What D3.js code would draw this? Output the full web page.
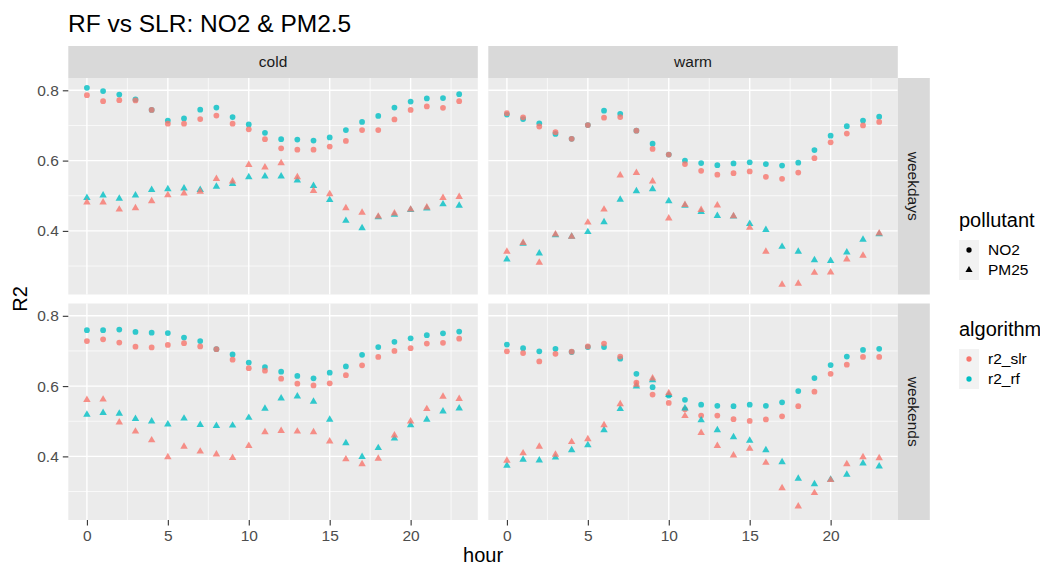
<!DOCTYPE html>
<html>
<head>
<meta charset="utf-8">
<script src="https://cdn.jsdelivr.net/npm/d3@7"></script>
<style>
  body { margin: 0; background: #fff; }
  svg { display: block; font-family: "Liberation Sans", Arial, sans-serif; }
</style>
</head>
<body>
<div id="container"></div>
<script>
// facets and legend categories
const seasons = ["cold", "warm"];
const dayTypes = ["weekdays", "weekends"];
const pollutants = ["NO2", "PM25"];
const algorithms = ["r2_slr", "r2_rf"];
const hours = [0, 1, 2, 3, 4, 5, 6, 7, 8, 9, 10, 11, 12, 13, 14, 15, 16, 17, 18, 19, 20, 21, 22, 23];
const xTicks = [0, 5, 10, 15, 20];
const yTicks = [0.4, 0.6, 0.8];

// R2 by hour
const coldWeekdaysNO2Slr = [0.786, 0.769, 0.772, 0.771, 0.744, 0.705, 0.705, 0.718, 0.728, 0.705, 0.689, 0.661, 0.635, 0.631, 0.631, 0.640, 0.656, 0.687, 0.687, 0.717, 0.744, 0.754, 0.750, 0.769];
const coldWeekdaysNO2Rf = [0.807, 0.798, 0.788, 0.774, 0.744, 0.714, 0.720, 0.745, 0.751, 0.724, 0.703, 0.679, 0.661, 0.660, 0.657, 0.666, 0.687, 0.710, 0.727, 0.751, 0.768, 0.777, 0.778, 0.789];
const coldWeekdaysPM25Slr = [0.481, 0.481, 0.461, 0.465, 0.485, 0.502, 0.507, 0.512, 0.548, 0.541, 0.588, 0.581, 0.593, 0.553, 0.514, 0.505, 0.465, 0.452, 0.441, 0.450, 0.461, 0.467, 0.494, 0.497];
const coldWeekdaysPM25Rf = [0.494, 0.501, 0.492, 0.501, 0.517, 0.519, 0.521, 0.517, 0.526, 0.534, 0.553, 0.555, 0.555, 0.544, 0.528, 0.488, 0.429, 0.408, 0.439, 0.446, 0.460, 0.464, 0.476, 0.472];

const warmWeekdaysNO2Slr = [0.735, 0.723, 0.697, 0.681, 0.662, 0.701, 0.722, 0.724, 0.685, 0.633, 0.617, 0.590, 0.571, 0.560, 0.564, 0.569, 0.554, 0.548, 0.566, 0.607, 0.652, 0.677, 0.700, 0.710];
const warmWeekdaysNO2Rf = [0.731, 0.718, 0.706, 0.676, 0.662, 0.701, 0.742, 0.733, 0.685, 0.648, 0.617, 0.600, 0.593, 0.587, 0.592, 0.595, 0.590, 0.586, 0.594, 0.630, 0.671, 0.698, 0.714, 0.725];
const warmWeekdaysPM25Slr = [0.341, 0.366, 0.310, 0.390, 0.384, 0.424, 0.461, 0.558, 0.565, 0.541, 0.436, 0.474, 0.460, 0.473, 0.442, 0.409, 0.341, 0.247, 0.250, 0.281, 0.282, 0.319, 0.330, 0.393];
const warmWeekdaysPM25Rf = [0.319, 0.364, 0.336, 0.388, 0.384, 0.397, 0.425, 0.489, 0.513, 0.519, 0.485, 0.472, 0.454, 0.443, 0.441, 0.420, 0.403, 0.355, 0.341, 0.317, 0.315, 0.339, 0.375, 0.391];

const coldWeekendsNO2Slr = [0.728, 0.733, 0.724, 0.712, 0.710, 0.717, 0.722, 0.713, 0.705, 0.675, 0.651, 0.644, 0.621, 0.607, 0.602, 0.608, 0.631, 0.659, 0.683, 0.700, 0.708, 0.721, 0.723, 0.735];
const coldWeekendsNO2Rf = [0.759, 0.759, 0.761, 0.754, 0.752, 0.751, 0.738, 0.728, 0.705, 0.690, 0.667, 0.654, 0.641, 0.629, 0.622, 0.638, 0.656, 0.689, 0.711, 0.726, 0.736, 0.745, 0.750, 0.755];
const coldWeekendsPM25Slr = [0.561, 0.562, 0.497, 0.471, 0.446, 0.398, 0.428, 0.414, 0.406, 0.396, 0.430, 0.469, 0.473, 0.471, 0.469, 0.443, 0.392, 0.378, 0.394, 0.460, 0.500, 0.535, 0.570, 0.564];
const coldWeekendsPM25Rf = [0.519, 0.524, 0.522, 0.507, 0.500, 0.491, 0.508, 0.490, 0.487, 0.488, 0.510, 0.536, 0.565, 0.571, 0.556, 0.505, 0.438, 0.399, 0.424, 0.451, 0.489, 0.505, 0.528, 0.537];

const warmWeekendsNO2Slr = [0.699, 0.694, 0.670, 0.692, 0.698, 0.713, 0.721, 0.684, 0.610, 0.576, 0.552, 0.534, 0.516, 0.516, 0.506, 0.501, 0.505, 0.514, 0.543, 0.584, 0.635, 0.661, 0.683, 0.683];
const warmWeekendsNO2Rf = [0.718, 0.708, 0.699, 0.706, 0.697, 0.711, 0.711, 0.678, 0.635, 0.597, 0.573, 0.561, 0.547, 0.544, 0.543, 0.547, 0.544, 0.554, 0.586, 0.623, 0.660, 0.684, 0.703, 0.706];
const warmWeekendsPM25Slr = [0.388, 0.409, 0.428, 0.405, 0.441, 0.449, 0.489, 0.549, 0.604, 0.622, 0.580, 0.515, 0.467, 0.430, 0.403, 0.422, 0.382, 0.310, 0.258, 0.296, 0.333, 0.378, 0.398, 0.395];
const warmWeekendsPM25Rf = [0.374, 0.391, 0.389, 0.397, 0.418, 0.432, 0.475, 0.535, 0.599, 0.617, 0.575, 0.537, 0.503, 0.475, 0.455, 0.445, 0.418, 0.384, 0.337, 0.321, 0.334, 0.348, 0.380, 0.372];

const series = {
  "cold|weekdays|NO2|r2_slr": coldWeekdaysNO2Slr,
  "cold|weekdays|NO2|r2_rf": coldWeekdaysNO2Rf,
  "cold|weekdays|PM25|r2_slr": coldWeekdaysPM25Slr,
  "cold|weekdays|PM25|r2_rf": coldWeekdaysPM25Rf,
  "warm|weekdays|NO2|r2_slr": warmWeekdaysNO2Slr,
  "warm|weekdays|NO2|r2_rf": warmWeekdaysNO2Rf,
  "warm|weekdays|PM25|r2_slr": warmWeekdaysPM25Slr,
  "warm|weekdays|PM25|r2_rf": warmWeekdaysPM25Rf,
  "cold|weekends|NO2|r2_slr": coldWeekendsNO2Slr,
  "cold|weekends|NO2|r2_rf": coldWeekendsNO2Rf,
  "cold|weekends|PM25|r2_slr": coldWeekendsPM25Slr,
  "cold|weekends|PM25|r2_rf": coldWeekendsPM25Rf,
  "warm|weekends|NO2|r2_slr": warmWeekendsNO2Slr,
  "warm|weekends|NO2|r2_rf": warmWeekendsNO2Rf,
  "warm|weekends|PM25|r2_slr": warmWeekendsPM25Slr,
  "warm|weekends|PM25|r2_rf": warmWeekendsPM25Rf
};

document.addEventListener("DOMContentLoaded", function() {
  const width = 1040, height = 566;
  const panelW = 409.5, panelH = 216.5;
  const panelX = [68.3, 488.3];   // left edge of each column
  const panelY = [78, 303.5];     // top edge of each row
  const stripSize = 32;

  // long format, rf drawn first so slr sits on top
  const rows = [];
  seasons.forEach(s => dayTypes.forEach(d => pollutants.forEach(p => ["r2_rf", "r2_slr"].forEach(a => {
    series[`${s}|${d}|${p}|${a}`].forEach((v, i) => rows.push({season: s, day: d, pollutant: p, algorithm: a, hour: hours[i], r2: v}));
  }))));

  // ggplot-like 5% expansion
  const [yMin, yMax] = d3.extent(rows, d => d.r2);
  const yPad = (yMax - yMin) * 0.05;
  const [hMin, hMax] = d3.extent(hours);
  const xPad = (hMax - hMin) * 0.05;

  const x = d3.scaleLinear().domain([hMin - xPad, hMax + xPad]).range([0, panelW]);
  const y = d3.scaleLinear().domain([yMin - yPad, yMax + yPad]).range([panelH, 0]);

  const color = d3.scaleOrdinal().domain(algorithms).range(["#F8766D", "#00BFC4"]);
  const shape = d3.scaleOrdinal().domain(pollutants).range([d3.symbolCircle, d3.symbolTriangle]);
  const symSize = {NO2: 26, PM25: 24};

  const xMinor = [2.5, 7.5, 12.5, 17.5, 22.5];
  const yMinor = [0.3, 0.5, 0.7];

  const svg = d3.create("svg")
      .attr("width", width)
      .attr("height", height)
      .attr("viewBox", [0, 0, width, height]);

  svg.append("text")
      .attr("x", 68)
      .attr("y", 32)
      .attr("font-size", 24.5)
      .attr("fill", "#000")
      .text("RF vs SLR: NO2 & PM2.5");

  seasons.forEach((s, ci) => {
    dayTypes.forEach((dt, ri) => {
      const g = svg.append("g")
          .attr("transform", `translate(${panelX[ci]},${panelY[ri]})`);

      g.append("rect")
          .attr("width", panelW)
          .attr("height", panelH)
          .attr("fill", "#EBEBEB");

      // minor grid
      g.append("g").selectAll("line")
        .data(xMinor)
        .join("line")
          .attr("x1", d => x(d)).attr("x2", d => x(d))
          .attr("y1", 0).attr("y2", panelH)
          .attr("stroke", "#fff").attr("stroke-width", 0.7);
      g.append("g").selectAll("line")
        .data(yMinor)
        .join("line")
          .attr("x1", 0).attr("x2", panelW)
          .attr("y1", d => y(d)).attr("y2", d => y(d))
          .attr("stroke", "#fff").attr("stroke-width", 0.7);

      // major grid
      g.append("g").selectAll("line")
        .data(xTicks)
        .join("line")
          .attr("x1", d => x(d)).attr("x2", d => x(d))
          .attr("y1", 0).attr("y2", panelH)
          .attr("stroke", "#fff").attr("stroke-width", 1.4);
      g.append("g").selectAll("line")
        .data(yTicks)
        .join("line")
          .attr("x1", 0).attr("x2", panelW)
          .attr("y1", d => y(d)).attr("y2", d => y(d))
          .attr("stroke", "#fff").attr("stroke-width", 1.4);

      g.append("g").selectAll("path")
        .data(rows.filter(d => d.season === s && d.day === dt))
        .join("path")
          .attr("transform", d => `translate(${x(d.hour)},${y(d.r2)})`)
          .attr("d", d => d3.symbol(shape(d.pollutant), symSize[d.pollutant])())
          .attr("fill", d => color(d.algorithm))
          .attr("fill-opacity", 0.8);

      // left axis on first column
      if (ci === 0) {
        const ax = g.append("g")
            .call(d3.axisLeft(y).tickValues(yTicks).tickSize(5.5).tickPadding(4).tickFormat(d3.format(".1f")));
        ax.select(".domain").remove();
        ax.selectAll("line").attr("stroke", "#333").attr("stroke-width", 1.1);
        ax.selectAll("text").attr("fill", "#4D4D4D").attr("font-size", 15.5).attr("font-family", null);
      }
      // bottom axis on last row
      if (ri === dayTypes.length - 1) {
        const ax = g.append("g")
            .attr("transform", `translate(0,${panelH})`)
            .call(d3.axisBottom(x).tickValues(xTicks).tickSize(5.5).tickPadding(4));
        ax.select(".domain").remove();
        ax.selectAll("line").attr("stroke", "#333").attr("stroke-width", 1.1);
        ax.selectAll("text").attr("fill", "#4D4D4D").attr("font-size", 15.5).attr("font-family", null);
      }
    });
  });

  // top strips
  seasons.forEach((s, ci) => {
    svg.append("rect")
        .attr("x", panelX[ci]).attr("y", panelY[0] - stripSize)
        .attr("width", panelW).attr("height", stripSize)
        .attr("fill", "#D9D9D9");
    svg.append("text")
        .attr("x", panelX[ci] + panelW / 2)
        .attr("y", panelY[0] - stripSize / 2)
        .attr("dy", "0.35em")
        .attr("text-anchor", "middle")
        .attr("font-size", 15.5)
        .attr("fill", "#1A1A1A")
        .text(s);
  });

  // right strips
  const stripX = panelX[1] + panelW;
  dayTypes.forEach((dt, ri) => {
    svg.append("rect")
        .attr("x", stripX).attr("y", panelY[ri])
        .attr("width", stripSize).attr("height", panelH)
        .attr("fill", "#D9D9D9");
    svg.append("text")
        .attr("transform", `translate(${stripX + stripSize / 2},${panelY[ri] + panelH / 2}) rotate(90)`)
        .attr("dy", "0.35em")
        .attr("text-anchor", "middle")
        .attr("font-size", 15.5)
        .attr("fill", "#1A1A1A")
        .text(dt);
  });

  // axis titles
  svg.append("text")
      .attr("x", (panelX[0] + panelX[1] + panelW) / 2)
      .attr("y", 562)
      .attr("text-anchor", "middle")
      .attr("font-size", 20)
      .text("hour");
  svg.append("text")
      .attr("transform", `translate(27,${(panelY[0] + panelY[1] + panelH) / 2}) rotate(-90)`)
      .attr("text-anchor", "middle")
      .attr("font-size", 20)
      .text("R2");

  // legends
  const legendX = 959;
  function legend(top, title, items, symbolFor, colorFor) {
    const lg = svg.append("g").attr("transform", `translate(${legendX},${top})`);
    lg.append("text")
        .attr("y", 0)
        .attr("font-size", 20)
        .text(title);
    const it = lg.selectAll("g.key")
      .data(items)
      .join("g")
        .attr("class", "key")
        .attr("transform", (d, i) => `translate(0,${13 + i * 20})`);
    it.append("rect")
        .attr("width", 20).attr("height", 20)
        .attr("fill", "#F2F2F2");
    it.append("path")
        .attr("transform", "translate(10,10)")
        .attr("d", d => d3.symbol(symbolFor(d), 22)())
        .attr("fill", colorFor);
    it.append("text")
        .attr("x", 29)
        .attr("y", 10)
        .attr("dy", "0.35em")
        .attr("font-size", 15.5)
        .text(d => d);
  }
  legend(227, "pollutant", pollutants, d => shape(d), () => "#000");
  legend(336, "algorithm", algorithms, () => d3.symbolCircle, d => color(d));

  document.getElementById("container").append(svg.node());
});
</script>
</body>
</html>
